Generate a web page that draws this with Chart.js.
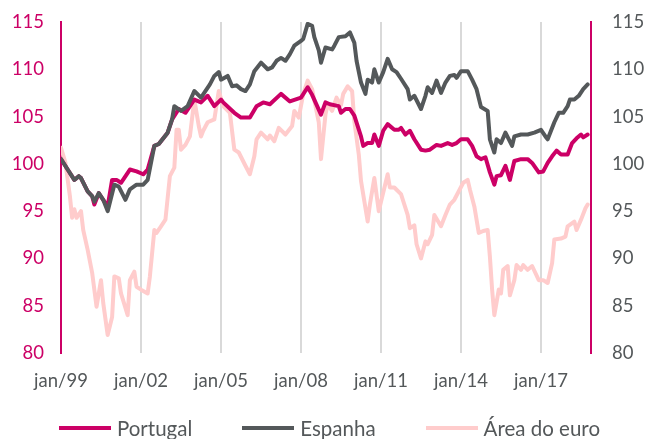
<!DOCTYPE html>
<html>
<head>
<meta charset="utf-8">
<script src="https://cdn.jsdelivr.net/npm/chart.js@4"></script>
<style>
  html, body { margin: 0; padding: 0; background: #fff; }
  #wrap { position: relative; width: 659px; height: 439px; }
  #legend {
    position: absolute; left: 0; top: 416px; width: 659px; height: 24px;
    display: flex; justify-content: center; align-items: center; gap: 50px;
    font-family: Lato, "Open Sans", sans-serif; font-size: 20.5px; color: #54585A;
  }
  #legend .item { display: flex; align-items: center; white-space: nowrap; }
  #legend .swatch { display: inline-block; width: 52px; height: 4px; margin-right: 6px; }
</style>
</head>
<body>
<div id="wrap">
  <canvas id="chart"></canvas>
  <div id="legend"></div>
</div>
<script>
// months counted from jan/99 (0 = jan/99)
const xTickLabels = ['jan/99', 'jan/02', 'jan/05', 'jan/08', 'jan/11', 'jan/14', 'jan/17'];

const ptMonths = [0,3,6,8,9,12,14,15,17,19,21,23,25,27,31,34,37,39,42,44,48,50,53,56,60,63,66,69,72,73,78,81,85,88,91,94,99,103,108,111,113,117,119,121,125,126,128,130,132,135,136,138,140,141,143,145,147,150,152,153,155,157,159,162,164,166,169,171,174,176,178,180,183,185,187,189,191,193,195,196,198,200,202,204,207,210,212,215,217,219,221,223,225,228,230,232,234,235,237];
const ptValues = [100.5,99.4,98.3,98.7,98.5,97.1,96.6,95.7,96.9,96.2,95.5,98.3,98.3,98.0,99.4,99.2,98.9,99.4,101.9,102.1,103.3,104.7,105.8,105.4,106.8,106.5,107.2,106.1,106.8,106.5,105.4,104.9,104.9,106.1,106.5,106.3,107.4,106.6,107.0,108.1,107.3,105.2,106.5,106.3,106.1,105.4,105.8,105.8,105.1,102.9,101.9,102.2,102.2,103.1,101.9,103.5,104.2,103.6,103.6,103.8,103.1,103.5,102.6,101.5,101.4,101.5,102.0,101.9,102.2,102.0,102.2,102.6,102.6,101.9,100.8,100.5,100.7,99.1,97.8,98.7,98.8,99.8,98.3,100.3,100.5,100.5,100.1,99.1,99.2,100.1,100.8,101.4,101.0,101.0,102.2,102.7,103.1,102.8,103.1];

const esMonths = [0,3,6,8,9,12,14,15,17,19,21,24,26,29,31,34,37,39,42,44,48,50,51,54,57,60,63,67,69,71,72,75,77,79,81,83,85,87,90,93,95,97,99,101,103,105,108,109,111,113,114,116,117,119,122,123,125,128,130,132,133,135,137,138,140,141,143,145,147,149,151,153,156,157,159,162,164,165,167,169,171,173,175,177,178,180,183,185,187,189,192,193,195,196,198,200,203,204,207,210,213,216,218,219,222,224,226,228,229,231,233,235,237];
const esValues = [100.5,99.4,98.3,98.7,98.5,97.1,96.6,96.0,96.9,96.2,95.0,97.8,97.6,96.2,97.3,97.8,97.8,98.3,101.9,102.1,103.3,104.7,106.1,105.6,106.1,107.7,107.0,108.4,109.3,109.7,108.9,109.3,108.2,108.3,107.9,107.7,108.4,109.8,110.7,110.0,110.2,110.9,111.2,110.9,111.6,112.5,113.0,113.2,114.8,114.6,113.4,112.0,110.7,112.3,112.1,112.5,113.4,113.5,113.9,112.8,110.9,108.6,107.4,108.9,108.6,110.0,108.6,109.7,111.1,110.0,109.7,109.0,107.9,106.8,107.2,105.8,107.2,108.1,107.5,108.8,107.5,108.6,109.3,109.4,109.1,109.8,109.8,108.9,107.9,106.0,105.6,102.6,101.2,102.6,102.2,103.3,101.9,102.9,103.1,103.1,103.3,103.6,102.9,102.6,104.4,105.4,105.4,106.1,106.8,106.8,107.2,107.9,108.4];

const euMonths = [0,2,4,5,6,7,9,10,12,14,16,18,19,21,23,24,26,27,30,31,33,34,36,39,40,42,43,45,47,49,51,52,53,54,56,58,60,62,63,64,66,69,71,73,76,78,80,83,85,87,88,90,93,94,96,98,101,104,105,107,109,111,113,116,117,119,120,122,124,126,127,129,131,132,134,135,138,139,141,143,144,147,148,150,153,156,157,159,160,162,164,165,167,168,171,173,175,177,179,181,183,184,186,188,190,192,193,194,195,197,198,199,201,202,204,205,207,208,210,212,215,217,219,221,222,225,227,228,231,232,234,236,237];
const euValues = [101.7,100.1,96.6,94.3,95.2,94.3,95.0,93.0,90.9,88.5,84.9,87.7,85.3,81.9,83.8,88.1,87.9,86.3,84.0,87.7,88.6,87.0,86.7,86.3,88.1,93.0,92.7,93.4,94.1,98.7,99.6,103.6,103.6,101.5,102.0,102.9,106.8,104.0,102.9,103.5,104.4,104.7,107.7,106.1,105.4,101.5,101.2,99.8,98.9,100.8,102.6,103.3,102.6,103.0,102.4,103.8,103.1,104.0,105.6,104.9,107.4,108.8,107.9,104.4,100.5,105.2,106.3,105.6,107.0,106.2,107.4,108.2,107.7,104.5,101.0,98.2,93.9,95.7,98.5,95.0,96.0,98.9,97.5,97.5,96.8,94.6,93.2,93.5,91.5,90.0,91.8,91.5,92.5,94.6,93.4,94.6,95.7,96.2,97.1,98.0,98.3,97.3,95.5,92.7,92.9,93.0,90.2,86.7,84.0,86.7,86.3,88.8,89.2,86.1,87.7,89.3,88.8,89.3,88.8,89.2,87.7,87.7,87.4,89.5,92.0,92.1,92.3,93.4,93.9,93.0,94.1,95.3,95.7];

const MAGENTA = '#CC0066';
const GRAY = '#54585A';
const PINK = '#FFCCCC';
const FONT = 'Lato, "Open Sans", sans-serif';

function toPoints(months, values) {
    return months.map((m, i) => ({ x: m, y: values[i] }));
}

// y axes: keep only the label gap, no extra room above/below the plot
function fixYAxis(width) {
    return s => {
        s.width = width;
        s.paddingTop = 0;
        s.paddingBottom = 0;
    };
}

const ctx = document.getElementById('chart').getContext('2d');
const chart = new Chart(ctx, {
    type: 'line',
    data: {
        datasets: [
            { label: 'Portugal', data: toPoints(ptMonths, ptValues), borderColor: MAGENTA, backgroundColor: MAGENTA, order: 1 },
            { label: 'Espanha', data: toPoints(esMonths, esValues), borderColor: GRAY, backgroundColor: GRAY, order: 0 },
            { label: 'Área do euro', data: toPoints(euMonths, euValues), borderColor: PINK, backgroundColor: PINK, order: 2 }
        ]
    },
    options: {
        responsive: true,
        maintainAspectRatio: false,
        animation: false,
        layout: { padding: { top: 22, right: 0, bottom: 42, left: 0 } },
        elements: {
            line: { borderWidth: 4, tension: 0, borderJoinStyle: 'round', borderCapStyle: 'round' },
            point: { radius: 0 }
        },
        plugins: {
            tooltip: { enabled: false },
            legend: { display: false }
        },
        scales: {
            x: {
                type: 'linear',
                min: 0,
                max: 238.5,
                afterFit: s => { s.height = 44; },
                afterBuildTicks: s => { s.ticks = xTickLabels.map((t, i) => ({ value: i * 36 })); },
                ticks: {
                    padding: 17,
                    color: '#54585A',
                    font: { family: FONT, size: 18.5 },
                    maxRotation: 0,
                    autoSkip: false,
                    callback: v => xTickLabels[v / 36]
                },
                border: { display: false },
                grid: {
                    drawTicks: false,
                    lineWidth: 2,
                    color: c => (c.tick && c.tick.value === 0) ? 'rgba(0,0,0,0)' : '#D9D9D9'
                }
            },
            y: {
                position: 'left',
                min: 80,
                max: 115,
                afterFit: fixYAxis(61),
                ticks: {
                    stepSize: 5,
                    padding: 17,
                    color: MAGENTA,
                    font: { family: FONT, size: 18.5 }
                },
                border: { display: true, color: MAGENTA, width: 2 },
                grid: { display: false, drawTicks: false }
            },
            y2: {
                position: 'right',
                min: 80,
                max: 115,
                afterFit: fixYAxis(68),
                ticks: {
                    stepSize: 5,
                    padding: 21,
                    color: '#54585A',
                    font: { family: FONT, size: 18.5 }
                },
                border: { display: true, color: MAGENTA, width: 2 },
                grid: { display: false, drawTicks: false }
            }
        }
    }
});

// legend below the chart, in dataset order
const legendEl = document.getElementById('legend');
chart.data.datasets.forEach(ds => {
    const item = document.createElement('span');
    item.className = 'item';
    const swatch = document.createElement('span');
    swatch.className = 'swatch';
    swatch.style.background = ds.borderColor;
    item.appendChild(swatch);
    item.appendChild(document.createTextNode(ds.label));
    legendEl.appendChild(item);
});
</script>
</body>
</html>
